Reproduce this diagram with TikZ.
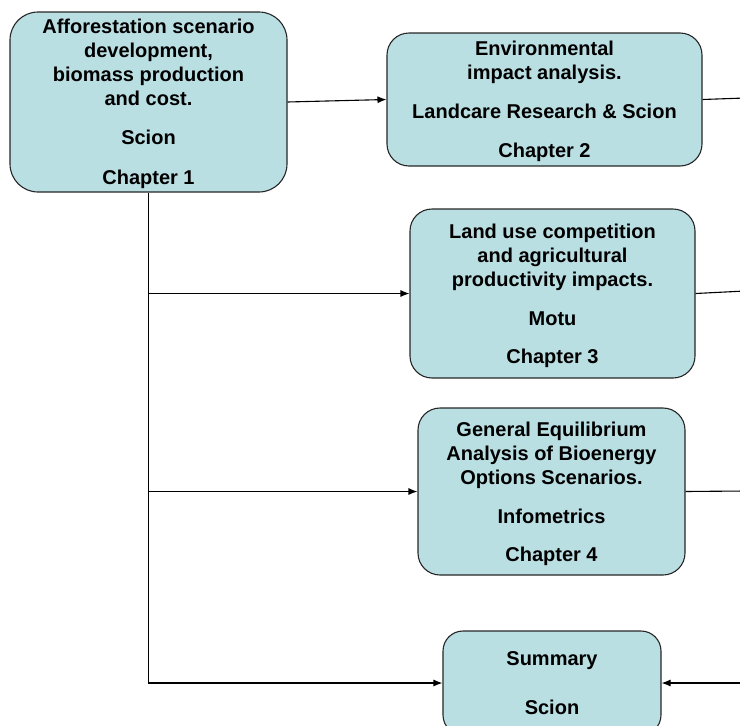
\documentclass[tikz,border=0pt]{standalone}
\usepackage{fontspec}
\setmainfont{Liberation Sans}
\usepackage{tikz}
\usetikzlibrary{arrows.meta}
\definecolor{boxblue}{RGB}{186,223,227}

\begin{document}
\begin{tikzpicture}[x=1pt, y=-1pt, ->, >={Latex[length=9pt,width=7pt]}, line width=1.1pt,
  every node/.style={draw=black!85, fill=boxblue, rounded corners=22pt, align=center, inner sep=0pt,
    font=\bfseries\fontsize{20}{24}\selectfont, text depth=-2pt}]
\useasboundingbox (0,0) rectangle (740,726);
\node[minimum width=277pt, minimum height=180pt, rounded corners=28pt] (ch1) at (148.5,102) {Afforestation scenario\\ development,\\ biomass production\\ and cost.\\[15pt] Scion\\[16pt] Chapter 1};
\node[minimum width=315pt, minimum height=133pt] (ch2) at (544.5,99.5) {Environmental\\ impact analysis.\\[15pt] Landcare Research \& Scion\\[15pt] Chapter 2};
\node[minimum width=285pt, minimum height=169pt] (ch3) at (552.5,293.5) {Land use competition\\ and agricultural\\ productivity impacts.\\[15pt] Motu\\[14pt] Chapter 3};
\node[minimum width=267pt, minimum height=167pt] (ch4) at (551.5,491.5) {General Equilibrium\\ Analysis of Bioenergy\\ Options Scenarios.\\[15pt] Infometrics\\[14pt] Chapter 4};
\node[minimum width=218pt, minimum height=104pt, rounded corners=20pt] (sum) at (552,683) {Summary\\[25pt] Scion};
\coordinate (r2) at (745,98);
\coordinate (r3) at (745,291);
\coordinate (r4) at (745,491);
\coordinate (r5) at (745,683);
\draw (ch1.east) -- (ch2.west);
\draw (ch1.south) -- (ch1.south |- sum.west) -- (sum.west);
\draw (ch1.south |- ch3.west) -- (ch3.west);
\draw (ch1.south |- ch4.west) -- (ch4.west);
\draw[-] (ch2.east) -- (r2);
\draw[-] (ch3.east) -- (r3);
\draw[-] (ch4.east) -- (r4);
\draw (r5) -- (sum.east);
\end{tikzpicture}
\end{document}
